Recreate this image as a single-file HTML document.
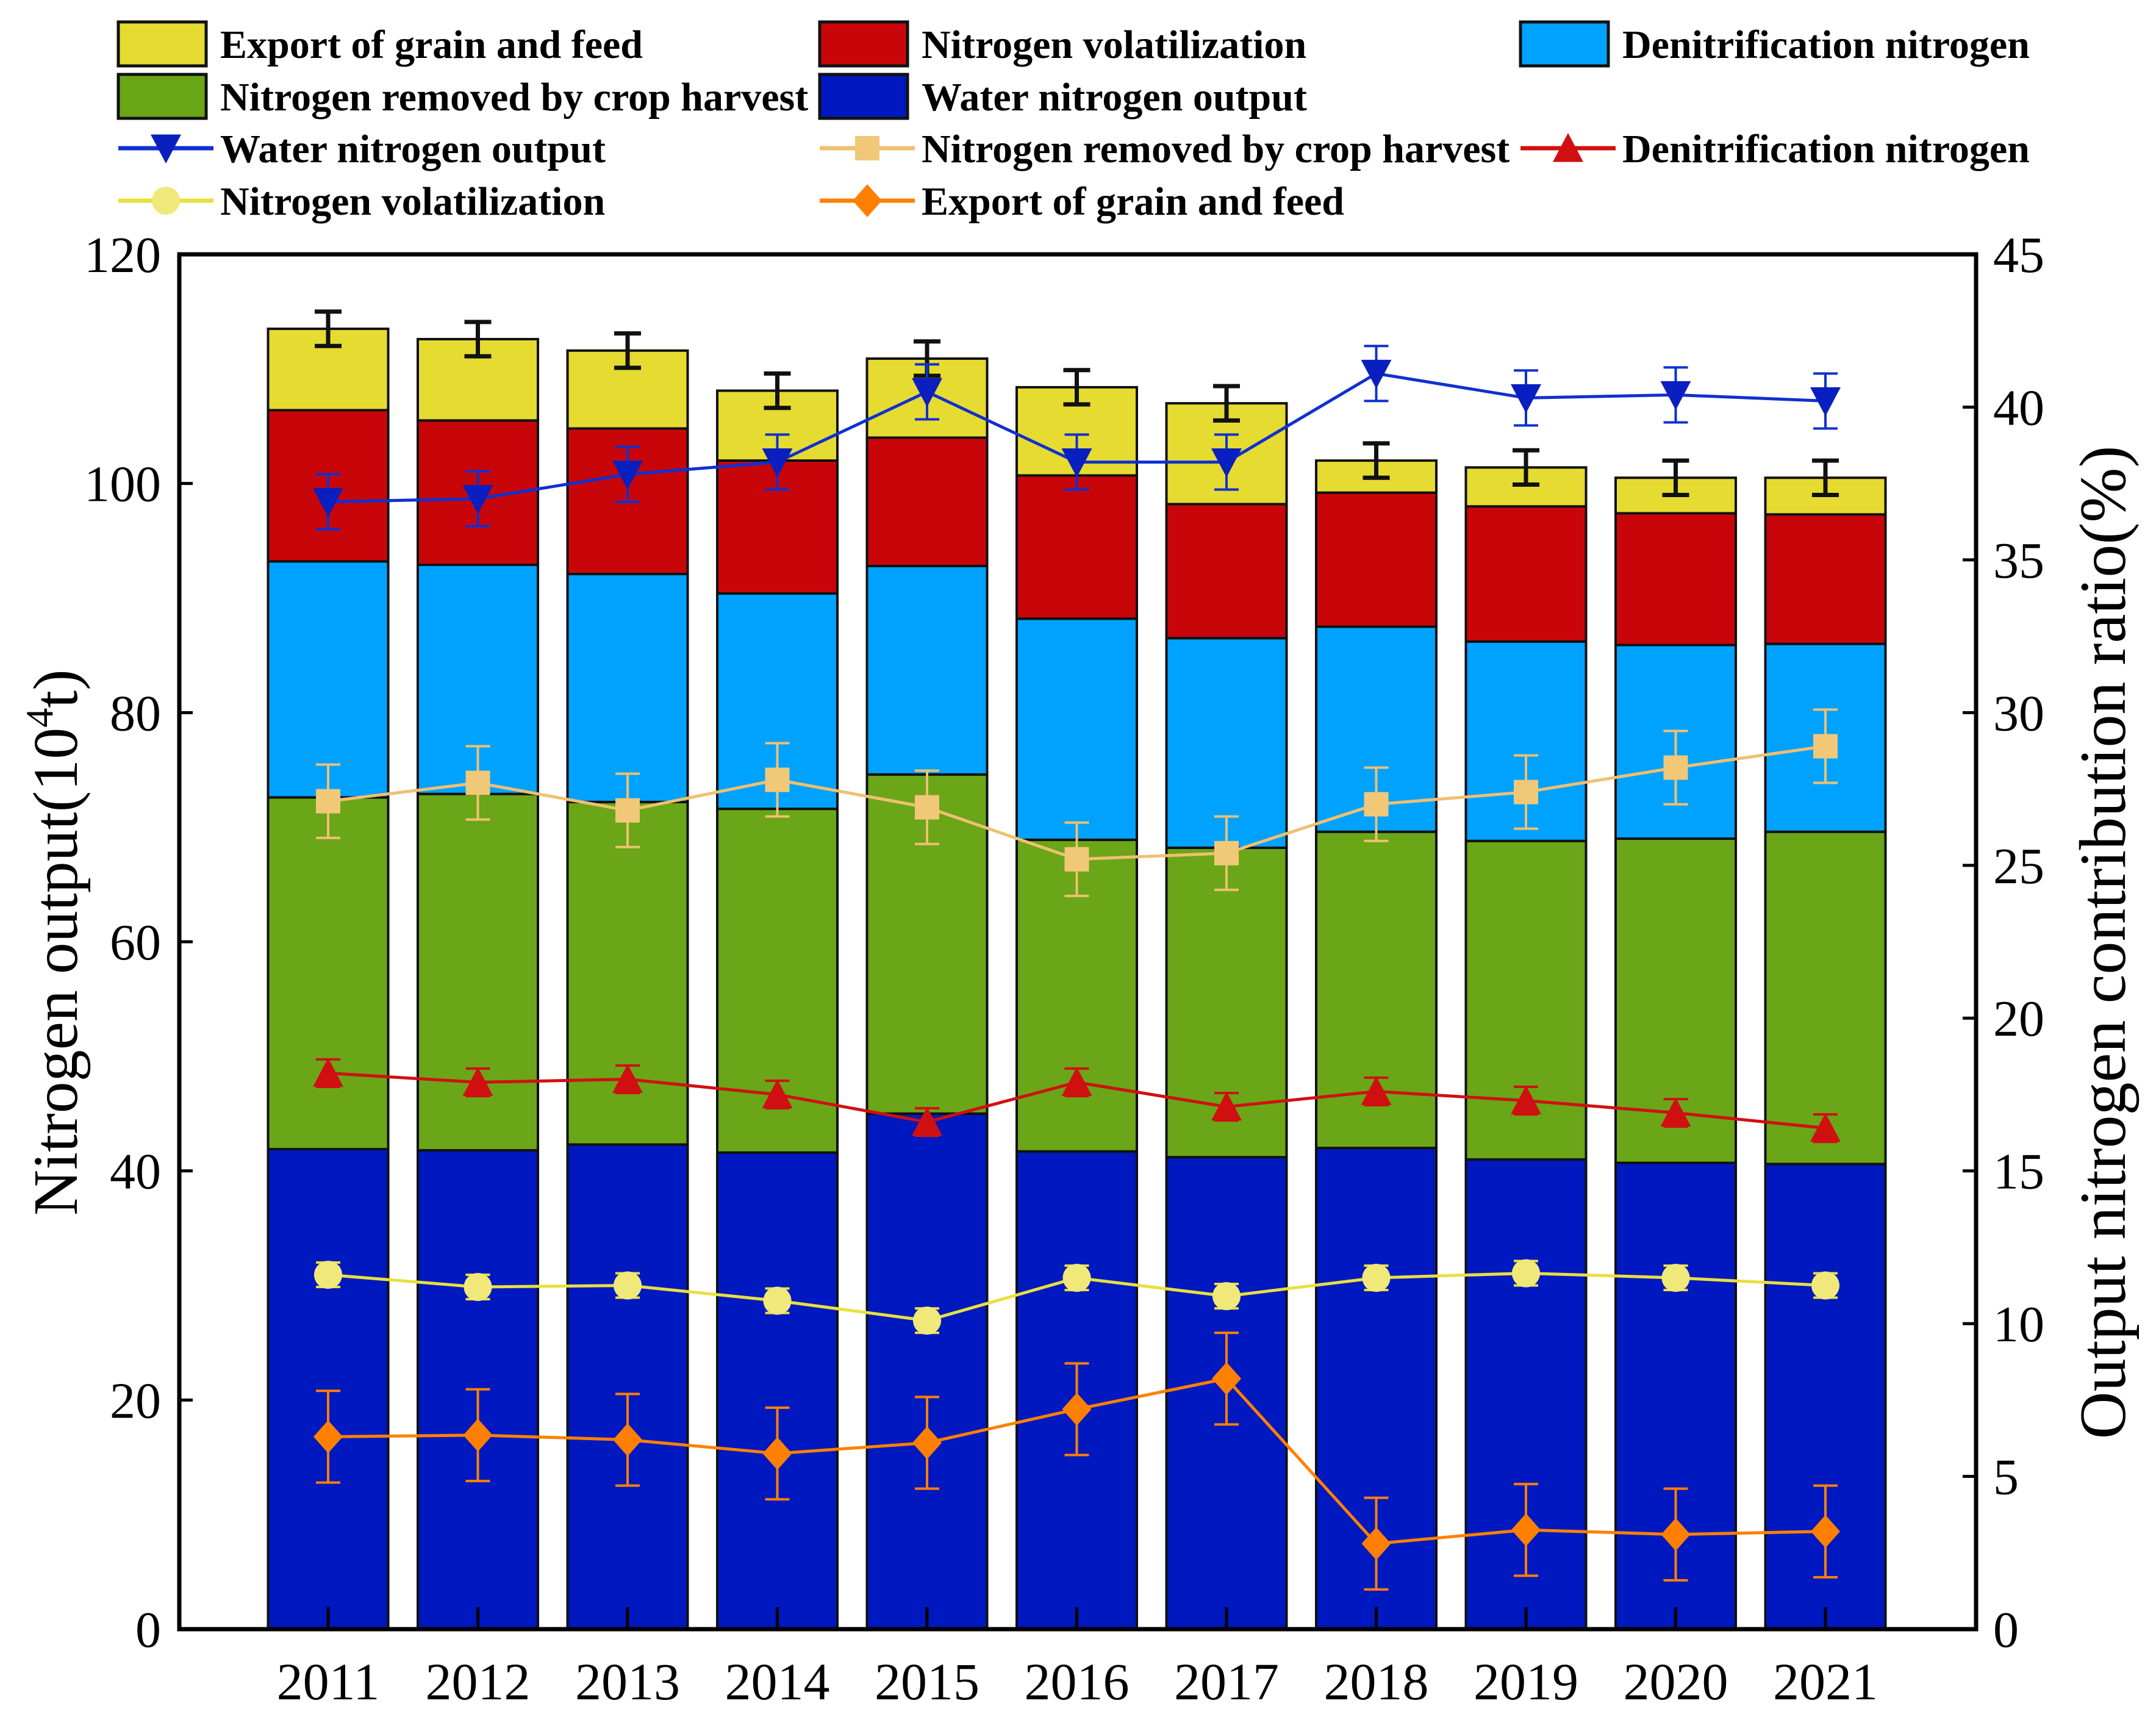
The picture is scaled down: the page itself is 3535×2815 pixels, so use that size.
<!DOCTYPE html>
<html><head><meta charset="utf-8"><style>
html,body{margin:0;padding:0;background:#fff;}
svg{display:block;}
text{font-family:"Liberation Serif",serif;}
</style></head><body>
<svg id="chart" width="3535" height="2815" viewBox="0 0 3535 2815" xmlns="http://www.w3.org/2000/svg">
<g id="legend"></g>
<g id="bars"></g>
<g id="lines"></g>
<g id="axes"></g>
</svg>
<script>
const years = ["2011","2012","2013","2014","2015","2016","2017","2018","2019","2020","2021"];
// stacked cumulative tops (left axis, 10^4 t)
const waterTop = [41.9,41.8,42.3,41.6,45.0,41.7,41.2,42.0,41.0,40.7,40.6];
const cropTop = [72.6,72.9,72.2,71.6,74.6,68.9,68.2,69.6,68.8,69.0,69.6];
const denitTop = [93.2,92.9,92.1,90.4,92.8,88.2,86.5,87.5,86.2,85.9,86.0];
const volatTop = [106.4,105.5,104.8,102.0,104.0,100.7,98.2,99.2,98.0,97.4,97.3];
const exportTop = [113.5,112.6,111.6,108.1,110.9,108.4,107.0,102.0,101.4,100.5,100.5];
const totalErr = [1.5,1.5,1.5,1.5,1.5,1.5,1.5,1.5,1.5,1.5,1.5];
// ratios (right axis, %)
const waterRatio = [36.9,37.0,37.8,38.2,40.5,38.2,38.2,41.1,40.3,40.4,40.2];
const cropRatio = [27.1,27.7,26.8,27.8,26.9,25.2,25.4,27.0,27.4,28.2,28.9];
const denitRatio = [18.2,17.9,18.0,17.5,16.6,17.9,17.1,17.6,17.3,16.9,16.4];
const volatRatio = [11.6,11.2,11.25,10.75,10.1,11.5,10.9,11.5,11.65,11.5,11.25];
const exportRatio = [6.3,6.35,6.2,5.75,6.1,7.2,8.2,2.8,3.25,3.1,3.2];
const waterErr = [0.9,0.9,0.9,0.9,0.9,0.9,0.9,0.9,0.9,0.9,0.9];
const cropErr = [1.2,1.2,1.2,1.2,1.2,1.2,1.2,1.2,1.2,1.2,1.2];
const denitErr = [0.45,0.45,0.45,0.45,0.45,0.45,0.45,0.45,0.45,0.45,0.45];
const volatErr = [0.4,0.4,0.4,0.4,0.4,0.4,0.4,0.4,0.4,0.4,0.4];
const exportErr = [1.5,1.5,1.5,1.5,1.5,1.5,1.5,1.5,1.5,1.5,1.5];
const leftTicks = [0,20,40,60,80,100,120];
const rightTicks = [0,5,10,15,20,25,30,35,40,45];

const NS="http://www.w3.org/2000/svg";
const L=294,R=3240,T=417,B=2671;
const x0=538, step=245.5, bw=197;
const xs=i=>x0+i*step;
const yL=v=>B-(v/120)*(B-T);
const yR=v=>B-(v/45)*(B-T);
function mk(p,tag,a){const e=document.createElementNS(NS,tag);for(const k in a)e.setAttribute(k,a[k]);p.appendChild(e);return e;}

const bars=document.getElementById('bars');
const layers=[
 {name:'water',fill:'#0018BF',lo:null,hi:waterTop},
 {name:'crop',fill:'#6AA617',lo:waterTop,hi:cropTop},
 {name:'denit',fill:'#00A2FF',lo:cropTop,hi:denitTop},
 {name:'volat',fill:'#C8060A',lo:denitTop,hi:volatTop},
 {name:'export',fill:'#E6DB31',lo:volatTop,hi:exportTop}];
years.forEach((yr,i)=>{
 layers.forEach(ly=>{
  const lo=ly.lo?ly.lo[i]:0, hi=ly.hi[i];
  const r=mk(bars,'rect',{x:xs(i)-bw/2,y:yL(hi),width:bw,height:yL(lo)-yL(hi),fill:ly.fill,stroke:'#111','stroke-width':4});
  
  
 });
 const e=mk(bars,'path',{d:`M${xs(i)},${yL(exportTop[i]+totalErr[i])}V${yL(exportTop[i]-totalErr[i])}M${xs(i)-22},${yL(exportTop[i]+totalErr[i])}h44M${xs(i)-22},${yL(exportTop[i]-totalErr[i])}h44`,stroke:'#111','stroke-width':7,fill:'none'});
 
 
});

const lines=document.getElementById('lines');
function marker(p,shape,cx,cy,fill){
 const s=25;
 if(shape==='tri-down')return mk(p,'path',{d:`M${cx-s},${cy-s*0.9}L${cx+s},${cy-s*0.9}L${cx},${cy+s}Z`,fill});
 if(shape==='tri-up')return mk(p,'path',{d:`M${cx-s},${cy+s*0.9}L${cx+s},${cy+s*0.9}L${cx},${cy-s}Z`,fill});
 if(shape==='square')return mk(p,'rect',{x:cx-20,y:cy-20,width:40,height:40,fill});
 if(shape==='circle')return mk(p,'circle',{cx,cy,r:23,fill});
 return mk(p,'path',{d:`M${cx},${cy-27}L${cx+24},${cy}L${cx},${cy+27}L${cx-24},${cy}Z`,fill});
}
const series=[
 {name:'export-ratio',vals:exportRatio,err:exportErr,line:'#FF8000',mfill:'#FF8000',shape:'diamond'},
 {name:'volat-ratio',vals:volatRatio,err:volatErr,line:'#E8E040',mfill:'#F0E878',shape:'circle'},
 {name:'denit-ratio',vals:denitRatio,err:denitErr,line:'#D01010',mfill:'#D01010',shape:'tri-up'},
 {name:'crop-ratio',vals:cropRatio,err:cropErr,line:'#F0C070',mfill:'#F0C878',shape:'square'},
 {name:'water-ratio',vals:waterRatio,err:waterErr,line:'#1030D0',mfill:'#0A1FC0',shape:'tri-down'}];
series.forEach(s=>{
 const g=mk(lines,'g',{});
 
 
 s.vals.forEach((v,i)=>{
  const e=mk(g,'path',{d:`M${xs(i)},${yR(v+s.err[i])}V${yR(v-s.err[i])}M${xs(i)-20},${yR(v+s.err[i])}h40M${xs(i)-20},${yR(v-s.err[i])}h40`,stroke:s.line,'stroke-width':4,fill:'none'});
  
  
 });
 const pl=mk(g,'polyline',{points:s.vals.map((v,i)=>xs(i)+','+yR(v)).join(' '),fill:'none',stroke:s.line,'stroke-width':5});
 
 
 s.vals.forEach((v,i)=>{
  const m=marker(g,s.shape,xs(i),yR(v),s.mfill);
  
  
 });
});

const axes=document.getElementById('axes');
const frame=mk(axes,'rect',{x:L,y:T,width:R-L,height:B-T,fill:'none',stroke:'#000','stroke-width':7});


leftTicks.forEach(v=>{
 mk(axes,'line',{x1:L,x2:L+22,y1:yL(v),y2:yL(v),stroke:'#000','stroke-width':5});
 const t=mk(axes,'text',{x:L-30,y:yL(v)+29,'text-anchor':'end','font-size':84});
 t.textContent=v;
 
 
});
rightTicks.forEach(v=>{
 mk(axes,'line',{x1:R-22,x2:R,y1:yR(v),y2:yR(v),stroke:'#000','stroke-width':5});
 const t=mk(axes,'text',{x:R+28,y:yR(v)+29,'text-anchor':'start','font-size':84});
 t.textContent=v;
 
 
});
years.forEach((yr,i)=>{
 mk(axes,'line',{x1:xs(i),x2:xs(i),y1:B,y2:B-36,stroke:'#000','stroke-width':5});
 const t=mk(axes,'text',{x:xs(i),y:B+115,'text-anchor':'middle','font-size':86});
 t.textContent=yr;
 
 
});
const yt=mk(axes,'text',{x:0,y:0,'text-anchor':'middle','font-size':104,transform:'translate(126,1545) rotate(-90)'});
yt.innerHTML='Nitrogen output(10<tspan font-size="64" dy="-40">4</tspan><tspan dy="40">t)</tspan>';


const rt=mk(axes,'text',{x:0,y:0,'text-anchor':'middle','font-size':108,transform:'translate(3484,1545) rotate(-90)'});
rt.textContent='Output nitrogen contribution ratio(%)';



const lg=document.getElementById('legend');
const cols=[194,1344,2493], rows=[72,158,243,329];
const entries=[
 {c:0,r:0,type:'box',fill:'#E6DB31',label:'Export of grain and feed'},
 {c:1,r:0,type:'box',fill:'#C8060A',label:'Nitrogen volatilization'},
 {c:2,r:0,type:'box',fill:'#00A2FF',label:'Denitrification nitrogen'},
 {c:0,r:1,type:'box',fill:'#6AA617',label:'Nitrogen removed by crop harvest'},
 {c:1,r:1,type:'box',fill:'#0018BF',label:'Water nitrogen output'},
 {c:0,r:2,type:'line',line:'#1030D0',fill:'#0A1FC0',shape:'tri-down',label:'Water nitrogen output'},
 {c:1,r:2,type:'line',line:'#F0C070',fill:'#F0C878',shape:'square',label:'Nitrogen removed by crop harvest'},
 {c:2,r:2,type:'line',line:'#D01010',fill:'#D01010',shape:'tri-up',label:'Denitrification nitrogen'},
 {c:0,r:3,type:'line',line:'#E8E040',fill:'#F0E878',shape:'circle',label:'Nitrogen volatilization'},
 {c:1,r:3,type:'line',line:'#FF8000',fill:'#FF8000',shape:'diamond',label:'Export of grain and feed'}];
entries.forEach(en=>{
 const g=mk(lg,'g',{});
 
 
 const x=cols[en.c], y=rows[en.r];
 if(en.type==='box'){
  mk(g,'rect',{x:x,y:y-36,width:144,height:72,fill:en.fill,stroke:'#111','stroke-width':5});
 }else{
  mk(g,'line',{x1:x,x2:x+156,y1:y,y2:y,stroke:en.line,'stroke-width':7});
  marker(g,en.shape,x+78,y,en.fill);
 }
 const t=mk(g,'text',{x:x+167,y:y+23,'font-size':66,'font-weight':'bold'});
 t.textContent=en.label;
});
</script>
</body></html>
